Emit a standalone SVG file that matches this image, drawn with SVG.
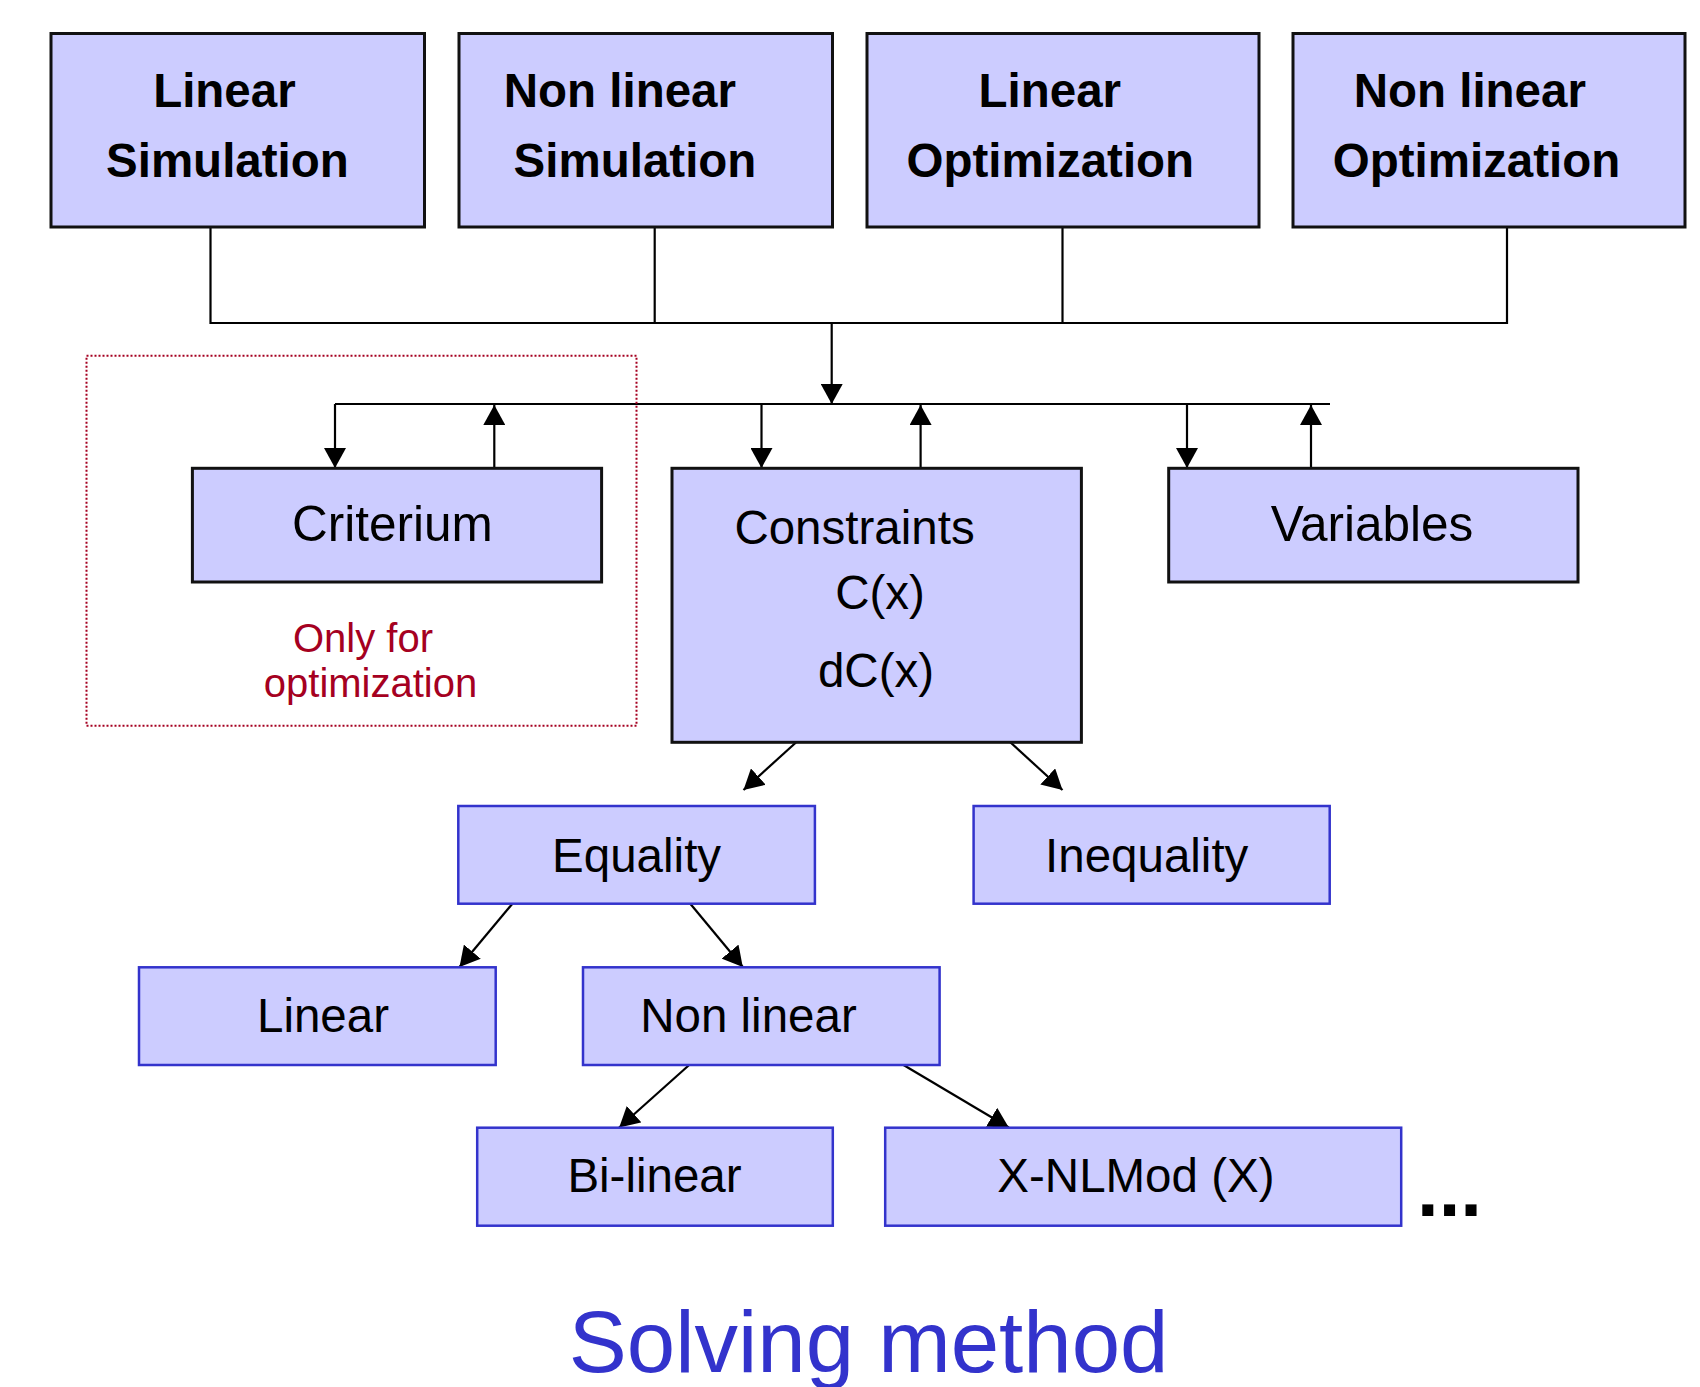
<svg xmlns="http://www.w3.org/2000/svg" width="1700" height="1387" viewBox="0 0 1700 1387">
<style>
.box{fill:#ccccff;stroke:#111;stroke-width:3}
.bbox{fill:#ccccff;stroke:#3333cc;stroke-width:2.5}
.tb{font-family:"Liberation Sans",Arial,sans-serif;font-weight:bold;font-size:47.5px;fill:#000;text-anchor:middle}
.t{font-family:"Liberation Sans",Arial,sans-serif;font-size:47.5px;fill:#000;text-anchor:middle}
.red{font-family:"Liberation Sans",Arial,sans-serif;font-size:40px;fill:#a50021;text-anchor:middle}
.ln{fill:none;stroke:#000;stroke-width:2.2}
.ar{fill:none;stroke:#000;stroke-width:2.2;marker-end:url(#ah)}
</style>
<defs>
<marker id="ah" markerUnits="userSpaceOnUse" viewBox="0 0 20 22" refX="20" refY="11" markerWidth="20" markerHeight="22" orient="auto">
<path d="M0,0 L20,11 L0,22 z" fill="#000"/>
</marker>
</defs>
<rect width="1700" height="1387" fill="#fff"/>

<g id="connectors">
<path class="ln" d="M210.5,227 V323 H1507 V227"/>
<path class="ln" d="M654.7,227 V323"/>
<path class="ln" d="M1062.5,227 V323"/>
<path class="ar" d="M831.7,323 V404"/>
<path class="ln" d="M335,404 H1330"/>
<path class="ar" d="M335,404 V468"/>
<path class="ar" d="M494.3,468 V405"/>
<path class="ar" d="M761.5,404 V468"/>
<path class="ar" d="M920.6,468 V405"/>
<path class="ar" d="M1187,404 V468"/>
<path class="ar" d="M1311,468 V405"/>
<path class="ar" d="M796.5,742 L743.5,790"/>
<path class="ar" d="M1010,742 L1062.5,790"/>
<path class="ar" d="M513,903 L459.5,967"/>
<path class="ar" d="M689.7,903 L742.8,967"/>
<path class="ar" d="M689.7,1064.5 L619.2,1127.5"/>
<path class="ar" d="M902.7,1064.5 L1008.8,1127.5"/>
</g>

<g id="region-optimization">
<rect x="86.5" y="355.7" width="550" height="370" fill="none" stroke="#a50021" stroke-width="2" stroke-dasharray="2,2"/>
<text class="red" x="363" y="651.7">Only for</text>
<text class="red" x="370.5" y="697">optimization</text>
</g>

<g id="linear-simulation">
<rect class="box" x="51" y="33.5" width="373.5" height="193.5"/>
<text class="tb" x="224.4" y="107.3">Linear</text>
<text class="tb" x="227.4" y="177.3">Simulation</text>
</g>
<g id="nonlinear-simulation">
<rect class="box" x="459" y="33.5" width="373.5" height="193.5"/>
<text class="tb" x="619.9" y="107.3">Non linear</text>
<text class="tb" x="635" y="177.3">Simulation</text>
</g>
<g id="linear-optimization">
<rect class="box" x="867" y="33.5" width="392" height="193.5"/>
<text class="tb" x="1049.8" y="107.3">Linear</text>
<text class="tb" x="1050.3" y="177.3">Optimization</text>
</g>
<g id="nonlinear-optimization">
<rect class="box" x="1293" y="33.5" width="392" height="193.5"/>
<text class="tb" x="1469.8" y="107.3">Non linear</text>
<text class="tb" x="1476.5" y="177.3">Optimization</text>
</g>

<g id="criterium">
<rect class="box" x="192.4" y="468.3" width="409.2" height="113.7"/>
<text class="t" x="392.4" y="541" style="font-size:49.5px">Criterium</text>
</g>
<g id="constraints">
<rect class="box" x="672" y="468.3" width="409.4" height="274"/>
<text class="t" x="734.4" y="544" style="text-anchor:start">Constraints</text>
<text class="t" x="880" y="609">C(x)</text>
<text class="t" x="876" y="687">dC(x)</text>
</g>
<g id="variables">
<rect class="box" x="1168.7" y="468.3" width="409.3" height="113.7"/>
<text class="t" x="1372" y="541" style="font-size:49.5px">Variables</text>
</g>

<g id="equality">
<rect class="bbox" x="458.3" y="806" width="356.6" height="97.7"/>
<text class="t" x="636.6" y="871.7">Equality</text>
</g>
<g id="inequality">
<rect class="bbox" x="973.6" y="806" width="356.1" height="97.7"/>
<text class="t" x="1146.7" y="871.7">Inequality</text>
</g>
<g id="linear">
<rect class="bbox" x="139" y="967.3" width="356.7" height="97.7"/>
<text class="t" x="323" y="1031.7">Linear</text>
</g>
<g id="nonlinear">
<rect class="bbox" x="583" y="967.3" width="356.6" height="97.7"/>
<text class="t" x="748.5" y="1031.7">Non linear</text>
</g>
<g id="bilinear">
<rect class="bbox" x="477.2" y="1127.7" width="355.6" height="98"/>
<text class="t" x="654.5" y="1192.3">Bi-linear</text>
</g>
<g id="xnlmod">
<rect class="bbox" x="885.2" y="1127.7" width="516" height="98"/>
<text class="t" x="1135.9" y="1192.3">X-NLMod (X)</text>
</g>
<text x="1417" y="1216" style="font-family:'Liberation Sans',Arial,sans-serif;font-weight:bold;font-size:78px;fill:#000">...</text>

<text x="868.6" y="1371.7" style="font-family:'Liberation Sans',Arial,sans-serif;font-size:87px;fill:#3333cc;text-anchor:middle">Solving method</text>
</svg>
